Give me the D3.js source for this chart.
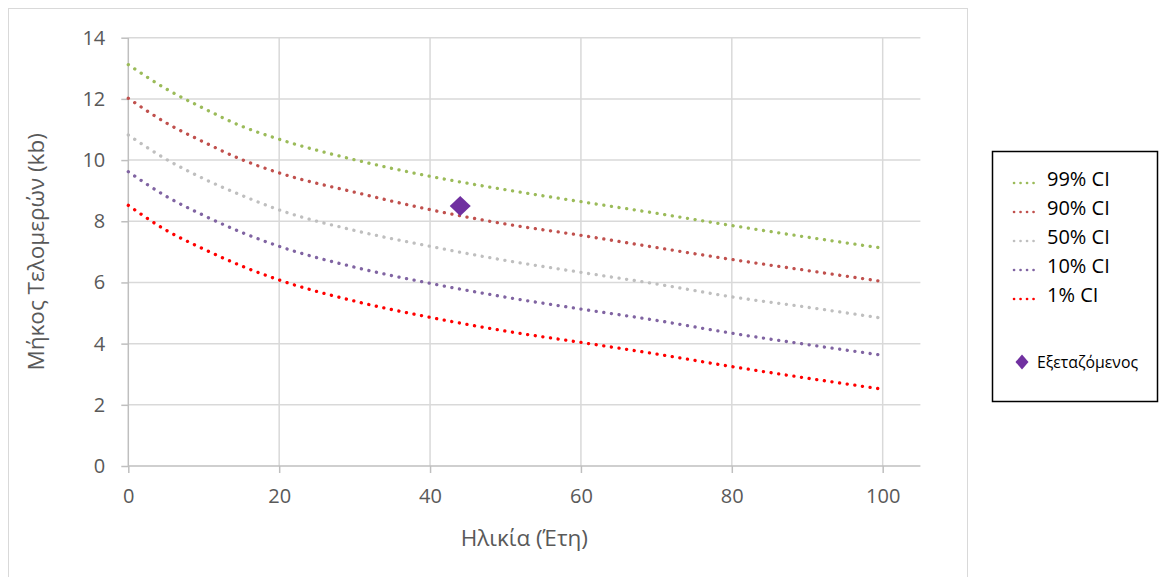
<!DOCTYPE html>
<html>
<head>
<meta charset="utf-8">
<script src="https://cdn.jsdelivr.net/npm/d3@7"></script>
<style>
  body { margin: 0; background: #fff; }
  svg { display: block; font-family: "Open Sans", sans-serif; }
</style>
</head>
<body>
<svg width="1160" height="577"></svg>
<script>
// data
let ages = [0, 5, 10, 15, 20, 30, 40, 50, 60, 70, 80, 90, 100];
let p99 = [13.12, 12.33, 11.69, 11.11, 10.68, 10.01, 9.47, 9.03, 8.64, 8.26, 7.86, 7.48, 7.12];
let p90 = [12.02, 11.22, 10.59, 10.02, 9.58, 8.95, 8.38, 7.91, 7.54, 7.14, 6.75, 6.39, 6.03];
let p50 = [10.82, 10.03, 9.39, 8.85, 8.37, 7.7, 7.18, 6.72, 6.33, 5.95, 5.53, 5.19, 4.83];
let p10 = [9.62, 8.82, 8.19, 7.64, 7.18, 6.5, 5.97, 5.52, 5.13, 4.76, 4.34, 3.97, 3.62];
let p1 = [8.52, 7.71, 7.09, 6.54, 6.08, 5.39, 4.86, 4.41, 4.04, 3.66, 3.25, 2.87, 2.51];
let seriesNames = ["99% CI", "90% CI", "50% CI", "10% CI", "1% CI"];
let seriesColors = ["#9bbb59", "#c0504d", "#bfbfbf", "#8064a2", "#ff0000"];
let patient = { age: 44, length: 8.5, name: "Εξεταζόμενος" };
let xTicks = [0, 20, 40, 60, 80, 100];
let yTicks = [0, 2, 4, 6, 8, 10, 12, 14];

let series = [p99, p90, p50, p10, p1].map(function (vals, i) {
  return {
    name: seriesNames[i],
    color: seriesColors[i],
    points: ages.map(function (a, j) { return [a, vals[j]]; })
  };
});

let svg = d3.select("svg");

// outer chart frame
svg.append("rect")
  .attr("x", 8.5).attr("y", 8.5)
  .attr("width", 959).attr("height", 600)
  .attr("fill", "none")
  .attr("stroke", "#d9d9d9");

let x = d3.scaleLinear().domain([0, 105]).range([128.3, 920.4]);
let y = d3.scaleLinear().domain([0, 14]).range([466, 37.7]);

// gridlines
let g = svg.append("g");
g.selectAll("line.hgrid")
  .data(yTicks.slice(1))
  .enter()
  .append("line")
  .attr("class", "hgrid")
  .attr("x1", x(0)).attr("x2", x(105))
  .attr("y1", function (d) { return y(d); })
  .attr("y2", function (d) { return y(d); })
  .attr("stroke", "#d9d9d9")
  .attr("stroke-width", 1.5);

g.selectAll("line.vgrid")
  .data(xTicks.slice(1))
  .enter()
  .append("line")
  .attr("class", "vgrid")
  .attr("y1", y(0)).attr("y2", y(14))
  .attr("x1", function (d) { return x(d); })
  .attr("x2", function (d) { return x(d); })
  .attr("stroke", "#d9d9d9")
  .attr("stroke-width", 1.5);

// axes
let xAxis = g.append("g")
  .attr("transform", "translate(0," + y(0) + ")")
  .call(d3.axisBottom(x).tickValues(xTicks).tickSize(7).tickPadding(16));
let yAxis = g.append("g")
  .attr("transform", "translate(" + x(0) + ",0)")
  .call(d3.axisLeft(y).tickValues(yTicks).tickSize(7).tickPadding(16));

[xAxis, yAxis].forEach(function (ax) {
  ax.select(".domain").attr("stroke", "#bfbfbf").attr("stroke-width", 1.5);
  ax.selectAll(".tick line").attr("stroke", "#bfbfbf").attr("stroke-width", 1.5);
  ax.selectAll(".tick text")
    .attr("fill", "#595959")
    .style("font-size", "20px")
    .style("font-family", "'Open Sans', sans-serif");
});
xAxis.select(".domain").attr("d", "M" + x(0) + ",0H" + x(105));
yAxis.select(".domain").attr("d", "M0," + y(0) + "V" + y(14));

// axis titles
svg.append("text")
  .attr("x", x(52.5))
  .attr("y", 546)
  .attr("text-anchor", "middle")
  .attr("fill", "#595959")
  .style("font-size", "22.5px")
  .text("Ηλικία (Έτη)");

svg.append("text")
  .attr("transform", "translate(44," + (y(0) + y(14)) / 2 + ") rotate(-90)")
  .attr("text-anchor", "middle")
  .attr("fill", "#595959")
  .style("font-size", "22.5px")
  .text("Μήκος Τελομερών (kb)");

// percentile curves
let line = d3.line()
  .x(function (d) { return x(d[0]); })
  .y(function (d) { return y(d[1]); })
  .curve(d3.curveMonotoneX);

g.selectAll("path.curve")
  .data(series)
  .enter()
  .append("path")
  .attr("class", "curve")
  .attr("d", function (d) { return line(d.points); })
  .attr("fill", "none")
  .attr("stroke", function (d) { return d.color; })
  .attr("stroke-width", 3.3)
  .attr("stroke-linecap", "round")
  .attr("stroke-dasharray", "0.1 7.6");

function diamond(cx, cy, hw, hh) {
  return "M" + cx + "," + (cy - hh) + "L" + (cx + hw) + "," + cy +
    "L" + cx + "," + (cy + hh) + "L" + (cx - hw) + "," + cy + "Z";
}

g.append("path")
  .attr("d", diamond(x(patient.age), y(patient.length), 10.5, 10))
  .attr("fill", "#7030a0");

// legend
let legend = svg.append("g");
legend.append("rect")
  .attr("x", 992.5).attr("y", 151.5)
  .attr("width", 165).attr("height", 250)
  .attr("fill", "#fff")
  .attr("stroke", "#000")
  .attr("stroke-width", 1.5);

let items = legend.selectAll("g.item")
  .data(series)
  .enter()
  .append("g")
  .attr("class", "item")
  .attr("transform", function (d, i) { return "translate(0," + (179 + i * 29) + ")"; });

items.append("line")
  .attr("x1", 1014).attr("x2", 1040)
  .attr("y1", 4).attr("y2", 4)
  .attr("stroke", function (d) { return d.color; })
  .attr("stroke-width", 2.6)
  .attr("stroke-linecap", "round")
  .attr("stroke-dasharray", "0.1 6.4");

items.append("text")
  .attr("x", 1047)
  .attr("y", 0)
  .attr("dy", "0.35em")
  .attr("fill", "#000")
  .style("font-size", "20px")
  .text(function (d) { return d.name; });

legend.append("path")
  .attr("d", diamond(1022, 362, 6.5, 7.5))
  .attr("fill", "#7030a0");
legend.append("text")
  .attr("x", 1037)
  .attr("y", 362)
  .attr("dy", "0.35em")
  .attr("fill", "#000")
  .style("font-size", "15.8px")
  .text(patient.name);
</script>
</body>
</html>
